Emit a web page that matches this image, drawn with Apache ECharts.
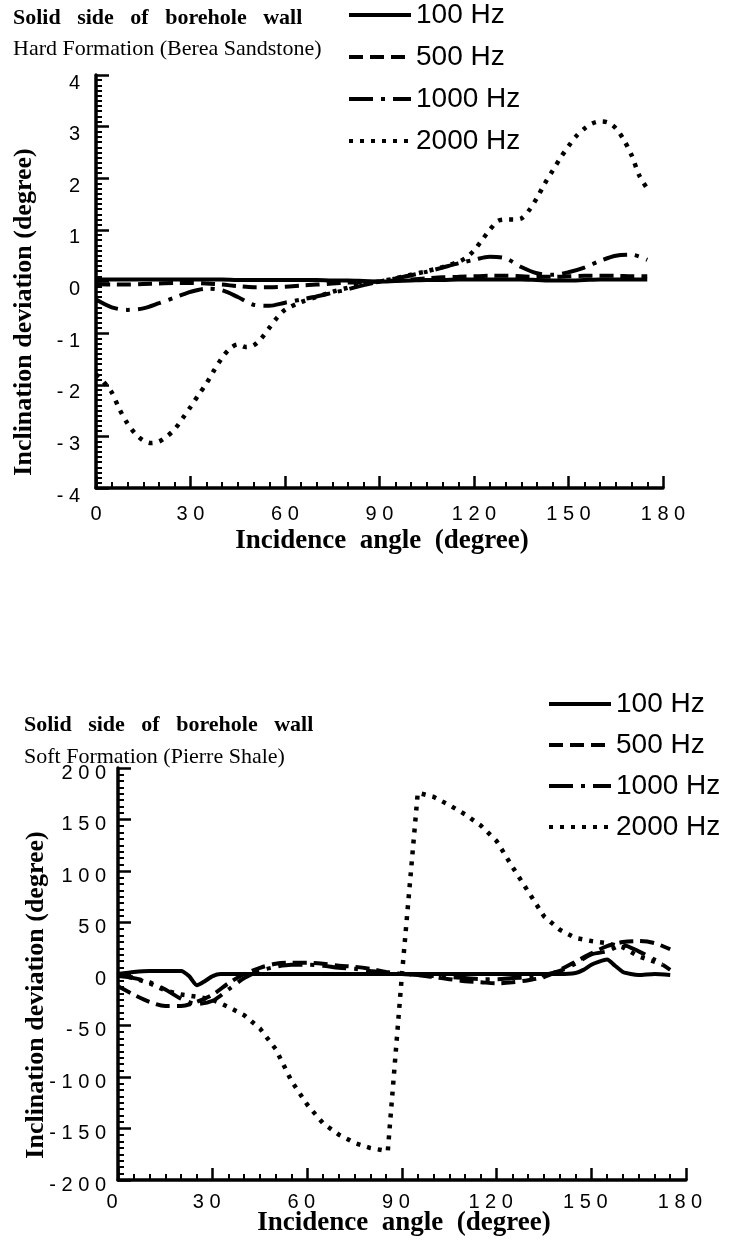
<!DOCTYPE html>
<html>
<head>
<meta charset="utf-8">
<script src="https://cdn.jsdelivr.net/npm/echarts@6/dist/echarts.min.js"></script>
<style>
  html, body { margin: 0; padding: 0; background: #fff; }
  #chart { width: 732px; height: 1243px; }
</style>
</head>
<body>
<div id="chart"></div>
<script>
// Legend entries (source frequency)
const freqNames = ['100 Hz', '500 Hz', '1000 Hz', '2000 Hz'];

// Axis tick values
const angleTicks = [0, 30, 60, 90, 120, 150, 180];
const hardTicks = [-4, -3, -2, -1, 0, 1, 2, 3, 4];
const softTicks = [-200, -150, -100, -50, 0, 50, 100, 150, 200];

// Hard formation (Berea Sandstone): incidence angle (degree) -> inclination deviation (degree)
const hardAngles = [0,5,10,15,20,25,30,35,40,45,50,55,60,65,70,75,80,85,90,95,100,105,110,115,120,125,130,135,140,145,150,155,160,165,170,175];
const hard100 = [0.04,0.04,0.04,0.04,0.04,0.04,0.04,0.04,0.04,0.03,0.03,0.03,0.03,0.03,0.03,0.02,0.02,0.01,0,0.01,0.02,0.03,0.03,0.04,0.04,0.04,0.04,0.04,0.03,0.02,0.02,0.03,0.04,0.04,0.04,0.04];
const hard500 = [-0.05,-0.06,-0.06,-0.05,-0.04,-0.03,-0.03,-0.04,-0.06,-0.09,-0.11,-0.11,-0.1,-0.08,-0.06,-0.04,-0.02,-0.01,0,0.02,0.04,0.06,0.08,0.09,0.1,0.11,0.11,0.1,0.09,0.09,0.1,0.11,0.11,0.11,0.1,0.1];
const hard1000 = [-0.35,-0.5,-0.55,-0.52,-0.42,-0.31,-0.2,-0.14,-0.17,-0.3,-0.45,-0.47,-0.41,-0.35,-0.29,-0.22,-0.15,-0.07,0,0.06,0.12,0.19,0.27,0.35,0.42,0.48,0.45,0.28,0.16,0.13,0.18,0.27,0.4,0.5,0.52,0.42];
const hard2000Angles = [0,2.5,5,7.5,10,12.5,15,17.5,20,22.5,25,27.5,30,32.5,35,37.5,40,42.5,45,47.5,50,52.5,55,57.5,60,65,70,75,80,85,90,95,100,105,110,115,117.5,120,122.5,125,127.5,130,132.5,135,137.5,140,142.5,145,147.5,150,152.5,155,157.5,160,162.5,165,167.5,170,172.5,175];
const hard2000 = [-1.8,-1.95,-2.15,-2.48,-2.75,-2.95,-3.08,-3.13,-3.1,-3.0,-2.86,-2.65,-2.43,-2.2,-1.98,-1.72,-1.48,-1.3,-1.22,-1.27,-1.24,-1.1,-0.9,-0.7,-0.55,-0.4,-0.3,-0.2,-0.12,-0.05,0,0.06,0.13,0.2,0.28,0.38,0.46,0.6,0.8,1.0,1.17,1.2,1.2,1.22,1.38,1.62,1.9,2.15,2.4,2.62,2.82,2.96,3.06,3.1,3.08,2.97,2.75,2.45,2.05,1.8];

// Soft formation (Pierre Shale)
const soft100Angles = [0,5,10,15,20,22.5,25,27.5,30,32.5,35,40,50,60,70,80,90,100,110,120,130,140,145,147.5,150,152.5,155,157.5,160,162.5,165,170,175];
const soft100 = [0,2,3,3,3,-2,-11,-7,-2,0,0,0,0,0,0,0,0,0,0,0,0,0,1,4,9,12,14,8,2,0,-1,0,-1];
const softAngles = [0,5,10,15,20,25,30,35,40,45,50,55,60,65,70,75,80,85,90,95,100,105,110,115,120,125,130,135,140,145,150,155,160,165,170,175];
const soft500 = [-12,-20,-27,-31,-31,-27,-20,-9,0,6,10,11,11,10,8,7,5,2,0,-1,-3,-5,-7,-8,-9,-8,-6,-3,4,12,20,27,31,32,30,24];
const soft1000 = [-2,-4,-8,-15,-24,-29,-26,-15,-4,3,7,9,9,8,6,5,3,1,0,-1,-2,-3,-4,-5,-5,-4,-3,-1,3,10,19,22,28,22,14,4];
const soft2000Angles = [0,5,10,15,20,25,30,35,40,45,50,55,60,65,70,75,80,85.5,90,95,100,105,110,115,120,125,130,135,140,145,150,155,160,165,170,172.5];
const soft2000 = [0,-4,-9,-16,-20,-22,-25,-32,-40,-53,-73,-104,-127,-145,-156,-164,-169,-172,0,176,172,164,155,144,129,104,80,56,43,35,32,30,26,17,12,9];

const INK = '#000';
const SANS = '"Liberation Sans", Arial, Helvetica, sans-serif';
const SERIF = '"Liberation Serif", "Times New Roman", serif';

// Line dash patterns per frequency
const dashes = {
  '100 Hz': 'solid',
  '500 Hz': [14, 7],
  '1000 Hz': [24, 8, 4, 8],
  '2000 Hz': [4, 7]
};

// Tick labels are printed with spaced characters, e.g. "1 2 0", "- 5 0"
const spaced = v => String(v).split('').join(' ');

function pairs(xs, ys) { return xs.map((x, i) => [x, ys[i]]); }

function curve(name, xs, ys, g, smooth) {
  return {
    name: name, type: 'line', xAxisIndex: g, yAxisIndex: g,
    data: pairs(xs, ys), symbol: 'none', smooth: smooth,
    lineStyle: { color: INK, width: name === '2000 Hz' ? 4.5 : 4, type: dashes[name], cap: 'butt' },
    itemStyle: { color: INK },
    z: 3
  };
}

function xAxisFor(g, labelPad, margin) {
  return {
    type: 'value', gridIndex: g,
    min: angleTicks[0], max: angleTicks[angleTicks.length - 1],
    interval: angleTicks[1] - angleTicks[0],
    axisLine: { onZero: false, lineStyle: { color: INK, width: 3.5 } },
    axisTick: { inside: true, length: 12, lineStyle: { color: INK, width: 2.5 } },
    minorTick: { show: true, splitNumber: 6, length: 6, lineStyle: { color: INK, width: 2 } },
    splitLine: { show: false },
    axisLabel: { color: INK, fontFamily: SANS, fontSize: 20, margin: margin, padding: labelPad, formatter: spaced }
  };
}

function yAxisFor(g, ticks, minorSplit, drop, margin) {
  return {
    type: 'value', gridIndex: g,
    min: ticks[0], max: ticks[ticks.length - 1], interval: ticks[1] - ticks[0],
    axisLine: { onZero: false, lineStyle: { color: INK, width: 3.5 } },
    axisTick: { inside: true, length: 13, lineStyle: { color: INK, width: 2.5 } },
    minorTick: { show: true, splitNumber: minorSplit, length: 6, lineStyle: { color: INK, width: 2 } },
    splitLine: { show: false },
    axisLabel: { color: INK, fontFamily: SANS, fontSize: 20, margin: margin,
                 verticalAlign: 'top', lineHeight: drop * 2, formatter: spaced }
  };
}

function legendAt(left, top, gap) {
  return {
    data: freqNames, orient: 'vertical', left: left, top: top, padding: 0,
    itemGap: gap, itemWidth: 62, itemHeight: 14, selectedMode: false,
    itemStyle: { opacity: 0 },
    lineStyle: { width: 4 },
    textStyle: { color: INK, fontFamily: SANS, fontSize: 28, lineHeight: 30 }
  };
}

const chart = echarts.init(document.getElementById('chart'), null, { renderer: 'canvas' });

chart.setOption({
  animation: false,
  backgroundColor: '#fff',
  title: [
    { text: 'Solid   side   of   borehole   wall', left: 13, top: 7, padding: 0,
      textStyle: { color: INK, fontFamily: SERIF, fontWeight: 'bold', fontSize: 22 } },
    { text: 'Hard Formation (Berea Sandstone)', left: 13, top: 38, padding: 0,
      textStyle: { color: INK, fontFamily: SERIF, fontWeight: 'normal', fontSize: 22 } },
    { text: 'Solid   side   of   borehole   wall', left: 24, top: 714, padding: 0,
      textStyle: { color: INK, fontFamily: SERIF, fontWeight: 'bold', fontSize: 22 } },
    { text: 'Soft Formation (Pierre Shale)', left: 24, top: 746, padding: 0,
      textStyle: { color: INK, fontFamily: SERIF, fontWeight: 'normal', fontSize: 22 } }
  ],
  legend: [legendAt(347, 0, 12), legendAt(547, 689, 11)],
  grid: [
    { left: 96, right: 69, top: 75, height: 413, outerBoundsMode: 'none' },
    { left: 118, right: 46, top: 768, height: 412, outerBoundsMode: 'none' }
  ],
  xAxis: [xAxisFor(0, 0, 16), xAxisFor(1, [0, 12, 0, 0], 12)],
  yAxis: [
    yAxisFor(0, hardTicks, 10, 8, 16),
    yAxisFor(1, softTicks, 8, 5, 12)
  ],
  graphic: [
    { type: 'text', x: 24, y: 312, rotation: Math.PI / 2,
      style: { text: 'Inclination deviation (degree)', font: 'bold 26px ' + SERIF, fill: INK,
               align: 'center', verticalAlign: 'middle', textAlign: 'center', textVerticalAlign: 'middle' } },
    { type: 'text', x: 382, y: 541,
      style: { text: 'Incidence  angle  (degree)', font: 'bold 27px ' + SERIF, fill: INK,
               align: 'center', verticalAlign: 'middle', textAlign: 'center', textVerticalAlign: 'middle' } },
    { type: 'text', x: 36, y: 995, rotation: Math.PI / 2,
      style: { text: 'Inclination deviation (degree)', font: 'bold 26px ' + SERIF, fill: INK,
               align: 'center', verticalAlign: 'middle', textAlign: 'center', textVerticalAlign: 'middle' } },
    { type: 'text', x: 404, y: 1223,
      style: { text: 'Incidence  angle  (degree)', font: 'bold 27px ' + SERIF, fill: INK,
               align: 'center', verticalAlign: 'middle', textAlign: 'center', textVerticalAlign: 'middle' } }
  ],
  series: [
    curve('100 Hz', hardAngles, hard100, 0, 0.3),
    curve('500 Hz', hardAngles, hard500, 0, 0.3),
    curve('1000 Hz', hardAngles, hard1000, 0, 0.3),
    curve('2000 Hz', hard2000Angles, hard2000, 0, 0.3),
    curve('100 Hz', soft100Angles, soft100, 1, 0.2),
    curve('500 Hz', softAngles, soft500, 1, 0.3),
    curve('1000 Hz', softAngles, soft1000, 1, 0.3),
    curve('2000 Hz', soft2000Angles, soft2000, 1, false)
  ]
});
</script>
</body>
</html>
